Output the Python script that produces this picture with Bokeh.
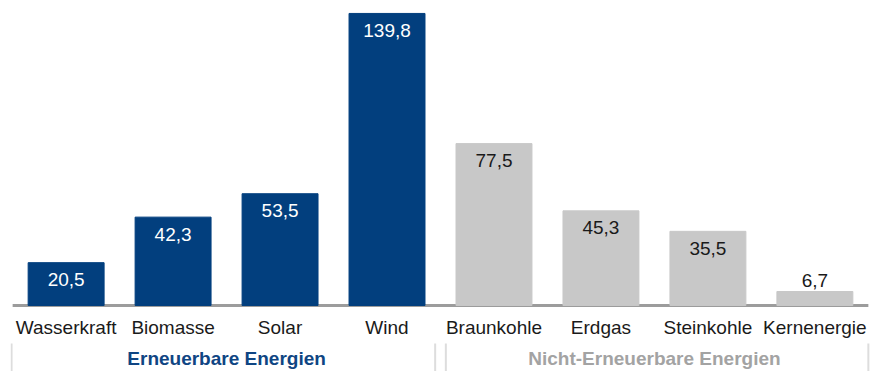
from bokeh.plotting import figure
from bokeh.models import FactorRange, Range1d, ColumnDataSource
from bokeh.core.properties import value
from bokeh.embed import file_html
from bokeh.resources import INLINE

categories = ["Wasserkraft", "Biomasse", "Solar", "Wind",
              "Braunkohle", "Erdgas", "Steinkohle", "Kernenergie"]
values = [20.5, 42.3, 53.5, 139.8, 77.5, 45.3, 35.5, 6.7]
groups = ["Erneuerbare Energien", "Nicht-Erneuerbare Energien"]
group_sizes = [4, 4]

BLUE = "#023F7E"
GRAY = "#C8C8C8"
group_bar_colors = [BLUE, GRAY]
group_text_colors = ["#0F4583", "#A3A3A3"]
value_text_colors = ["white", "#1a1a1a"]
FONT = value("Liberation Sans")

bar_colors, label_colors, offsets, labels = [], [], [], []
for g, n in enumerate(group_sizes):
    bar_colors += [group_bar_colors[g]] * n
    label_colors += [value_text_colors[g]] * n
for v in values:
    labels.append(f"{v:.1f}".replace(".", ","))
    offsets.append(-11 if v < 15 else 17)
label_colors = [c if v >= 15 else "#1a1a1a" for c, v in zip(label_colors, values)]

src = ColumnDataSource(dict(cat=categories, val=values, color=bar_colors,
                            lab=labels, lcol=label_colors, off=offsets))

p = figure(width=870, height=371, output_backend="svg", toolbar_location=None,
           x_range=FactorRange(*categories, range_padding=0.02,
                               range_padding_units="absolute"),
           y_range=Range1d(-31.6, 146.0),
           min_border_left=10, min_border_right=0, min_border_top=0,
           min_border_bottom=0)
p.axis.visible = False
p.grid.visible = False
p.outline_line_color = None
p.background_fill_color = "white"
p.border_fill_color = "white"

n_total = sum(group_sizes)
# baseline
p.segment(x0=[0], x1=[n_total], y0=[0], y1=[0], line_color="#9C9C9C", line_width=3)

p.vbar(x="cat", top="val", width=0.71, bottom=0, color="color", source=src)

p.text(x="cat", y="val", text="lab", text_color="lcol", y_offset="off",
       text_align="center", text_baseline="middle", text_font=FONT,
       text_font_size="19px", source=src)

# category labels
p.text(x=categories, y=[-10.5] * n_total, text=categories, text_align="center",
       text_baseline="middle", text_font=FONT, text_font_size="19px",
       text_color="#1a1a1a")

# group labels and brackets
start = 0
for g, n in enumerate(group_sizes):
    mid = start + n / 2
    p.text(x=[mid], y=[-25.2], text=[groups[g]], text_align="center",
           text_baseline="middle", text_font=FONT, text_font_size="19px",
           text_font_style="bold", text_color=group_text_colors[g])
    left = start - 0.01 if start == 0 else start + 0.05
    right = start + n if start + n == n_total else start + n - 0.05
    p.segment(x0=[left, right], x1=[left, right], y0=[-18.2, -18.2],
              y1=[-31.6, -31.6], line_color="#DDDDDD", line_width=2)
    start += n

open("out.html", "w").write(file_html(p, INLINE))
